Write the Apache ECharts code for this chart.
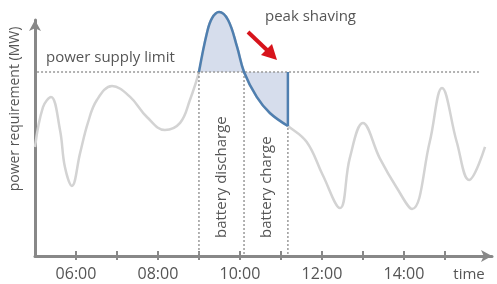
<!DOCTYPE html>
<html>
<head>
<meta charset="utf-8">
<script src="https://cdn.jsdelivr.net/npm/echarts@6/dist/echarts.min.js"></script>
<style>
  html, body { margin: 0; padding: 0; background: #fff; }
  #chart { width: 497px; height: 284px; }
</style>
</head>
<body>
<div id="chart"></div>
<script>
// demand curve (hours of day, power in arbitrary MW units)
var curveTimes = [5.00, 5.195, 5.39, 5.61, 5.73, 5.90, 6.10, 6.29, 6.51, 6.88, 7.32, 7.73, 8.17, 8.54, 8.78,
                  9.00, 9.195, 9.32, 9.49, 9.71, 9.93, 10.10, 10.41, 10.73, 11.17,
                  11.63, 12.02, 12.44, 12.68, 13.00, 13.41, 13.83, 14.20, 14.63, 14.93, 15.29, 15.59, 15.98];
var curvePower = [46.2, 63.1, 67.4, 53.4, 37.7, 29.7, 43.6, 56.4, 66.1, 72.0, 67.4, 58.9, 53.4, 56.4, 66.1,
                  78.0, 94.5, 100.8, 103.4, 100.0, 88.6, 78.0, 67.4, 60.6, 55.1,
                  48.3, 34.3, 20.3, 41.5, 56.4, 41.5, 28.8, 19.9, 48.3, 71.2, 48.3, 32.2, 46.2];
var supplyLimit = 78;
var limitStart = 5.05, limitEnd = 15.83;
var dischargeStart = 9.00, chargeStart = 10.10, chargeEnd = 11.17;
var tickHours = [6, 7, 8, 9, 10, 11, 12, 13, 14, 15];
var labelHours = [6, 8, 10, 12, 14];

var curve = curveTimes.map(function (t, i) { return [t, curvePower[i]]; });
var shaved = curve.filter(function (p) { return p[0] >= dischargeStart && p[0] <= chargeEnd; });

var grey = '#888';
var txt = '#555';
var fontFam = '"Open Sans", sans-serif';
var smoothing = 0.4;

var myChart = echarts.init(document.getElementById('chart'));

function vline(x) {
  return {
    type: 'line', data: [[x, supplyLimit], [x, 0]], symbol: 'none', silent: true,
    lineStyle: { color: '#999', width: 1.5, type: [2, 2] }
  };
}

myChart.setOption({
  animation: false,
  grid: { left: 35, right: 5, top: 20, bottom: 28 },
  xAxis: [
    {
      type: 'value', min: 5, max: 16.15,
      axisLine: { lineStyle: { color: grey, width: 3 }, symbol: ['none', 'arrow'], symbolSize: [9, 11] },
      axisTick: { customValues: tickHours, length: 4, lineStyle: { color: grey, width: 2 } },
      axisLabel: {
        customValues: labelHours, margin: 10, color: txt, fontSize: 16, fontFamily: fontFam,
        formatter: function (v) { return (v < 10 ? '0' : '') + v + ':00'; }
      },
      splitLine: { show: false }
    },
    {
      type: 'value', min: 5, max: 16.15, position: 'bottom',
      axisLine: { show: false },
      axisTick: { customValues: tickHours, inside: true, length: 5, lineStyle: { color: grey, width: 2 } },
      axisLabel: { show: false },
      splitLine: { show: false }
    }
  ],
  yAxis: {
    type: 'value', min: 0, max: 100,
    axisLine: { show: true, lineStyle: { color: grey, width: 3 }, symbol: ['none', 'arrow'], symbolSize: [9, 11] },
    axisTick: { show: false },
    axisLabel: { show: false },
    splitLine: { show: false }
  },
  series: [
    {
      type: 'line', data: curve, smooth: smoothing, symbol: 'none', clip: false,
      lineStyle: { color: '#d3d3d3', width: 2.5 }
    },
    {
      type: 'line', data: shaved, smooth: smoothing, symbol: 'none', clip: false,
      lineStyle: { width: 0 },
      areaStyle: { origin: supplyLimit, color: '#d6ddec', opacity: 1 }
    },
    {
      type: 'line', data: [[limitStart, supplyLimit], [limitEnd, supplyLimit]], symbol: 'none',
      lineStyle: { color: '#999', width: 1.5, type: [2, 2] }
    },
    vline(dischargeStart),
    vline(chargeStart),
    vline(chargeEnd),
    {
      type: 'line', data: shaved, smooth: smoothing, symbol: 'none', clip: false,
      lineStyle: { color: '#4f7fb0', width: 2.5 }
    },
    {
      type: 'line', data: [[chargeEnd, curvePower[curveTimes.indexOf(chargeEnd)]], [chargeEnd, supplyLimit]],
      symbol: 'none', lineStyle: { color: '#4f7fb0', width: 2.5 }
    }
  ],
  graphic: [
    { type: 'text', x: 15, y: 109, rotation: Math.PI / 2,
      style: { text: 'power requirement (MW)', fill: txt, font: '14px ' + fontFam, align: 'center', verticalAlign: 'middle' } },
    { type: 'text', x: 46, y: 58,
      style: { text: 'power supply limit', fill: txt, font: '15px ' + fontFam, align: 'left', verticalAlign: 'middle' } },
    { type: 'text', x: 265, y: 17,
      style: { text: 'peak shaving', fill: txt, font: '15px ' + fontFam, align: 'left', verticalAlign: 'middle' } },
    { type: 'text', x: 222, y: 238, rotation: Math.PI / 2,
      style: { text: 'battery discharge', fill: txt, font: '15px ' + fontFam, align: 'left', verticalAlign: 'middle' } },
    { type: 'text', x: 267, y: 238, rotation: Math.PI / 2,
      style: { text: 'battery charge', fill: txt, font: '15px ' + fontFam, align: 'left', verticalAlign: 'middle' } },
    { type: 'text', x: 469, y: 275,
      style: { text: 'time', fill: txt, font: '15px ' + fontFam, align: 'center', verticalAlign: 'middle' } },
    // red arrow pointing at the shaved peak
    { type: 'line', shape: { x1: 248, y1: 32, x2: 268, y2: 51 },
      style: { stroke: '#d7141c', lineWidth: 4 } },
    { type: 'polygon', shape: { points: [[277, 60], [261, 55], [272, 44]] },
      style: { fill: '#d7141c' } }
  ]
});
</script>
</body>
</html>
